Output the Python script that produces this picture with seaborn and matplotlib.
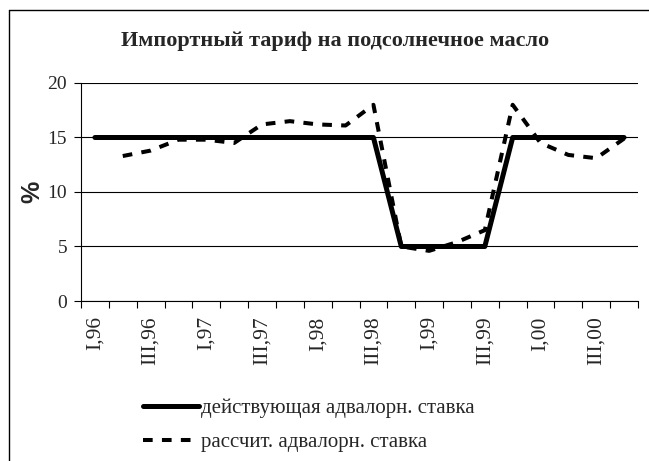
import matplotlib
matplotlib.use("Agg")
import matplotlib.pyplot as plt
import seaborn as sns
import pandas as pd
import numpy as np
from matplotlib.lines import Line2D
from matplotlib.ticker import FixedLocator, NullFormatter, FixedFormatter

quarters = ["I,96", "II,96", "III,96", "IV,96", "I,97", "II,97", "III,97", "IV,97",
            "I,98", "II,98", "III,98", "IV,98", "I,99", "II,99", "III,99", "IV,99",
            "I,00", "II,00", "III,00", "IV,00"]
actual_rate = [15, 15, 15, 15, 15, 15, 15, 15, 15, 15, 15,
               5, 5, 5, 5, 15, 15, 15, 15, 15]
calc_rate = [np.nan, 13.3, 13.8, 14.8, 14.8, 14.5, 16.2, 16.5, 16.2, 16.1, 18.0,
             5.0, 4.6, 5.4, 6.5, 18.0, 14.5, 13.4, 13.1, 14.9]
label_actual = "действующая адвалорн. ставка"
label_calc = "рассчит. адвалорн. ставка"
title = "Импортный тариф на подсолнечное масло"
y_ticks = [0, 5, 10, 15, 20]

sns.set_theme(style="white")
plt.rcParams['font.family'] = ['Liberation Serif', 'DejaVu Serif']

df = pd.DataFrame({"pos": np.arange(len(quarters)),
                   "actual": actual_rate, "calc": calc_rate})

fig = plt.figure(figsize=(6.49, 4.61), dpi=100)
ax = fig.add_axes([81/649, 1-301/461, (638-81)/649, (301-83)/461])

sns.lineplot(data=df, x="pos", y="actual", ax=ax, color="black", linewidth=3.6,
             solid_capstyle="round", label=label_actual)
sns.lineplot(data=df.dropna(), x="pos", y="calc", ax=ax, color="black", linewidth=2.9,
             dashes=False, label=label_calc)
ax.lines[1].set_dashes((2.4, 2.3))
ax.lines[1].set_dash_capstyle("butt")

ax.set_xlim(-0.5, len(quarters) - 0.5)
ax.set_ylim(0, 20)
ax.set_yticks(y_ticks)
ax.set_yticklabels([str(v) for v in y_ticks], fontsize=14)
ax.yaxis.grid(True, color="black", linewidth=0.8)
ax.xaxis.grid(False)

ax.xaxis.set_major_locator(FixedLocator(np.arange(len(quarters) + 1) - 0.5))
ax.xaxis.set_major_formatter(NullFormatter())
lab_pos = np.arange(0, len(quarters), 2)
ax.xaxis.set_minor_locator(FixedLocator(lab_pos))
ax.xaxis.set_minor_formatter(FixedFormatter([quarters[i] for i in lab_pos]))
ax.tick_params(axis="x", which="major", length=5, width=0.8, color="black", direction="out", bottom=True)
ax.tick_params(axis="x", which="minor", length=0, labelsize=15.5, labelrotation=90, pad=11, bottom=True)
ax.tick_params(axis="y", which="major", length=5, width=0.8, color="black", direction="out", left=True, pad=5)
for lab in ax.xaxis.get_minorticklabels():
    lab.set_verticalalignment("top")

for s in ["top", "right"]:
    ax.spines[s].set_visible(False)
for s in ["left", "bottom"]:
    ax.spines[s].set_color("black")
    ax.spines[s].set_linewidth(0.8)

ax.set_xlabel("")
ax.set_ylabel("%", fontsize=18, fontweight="bold", family=["Liberation Sans", "DejaVu Sans"], labelpad=2)

fig.text(335/649, 1-41/461, title, ha="center", va="center", fontsize=16,
         fontweight="bold")

handles, labels = ax.get_legend_handles_labels()
ax.get_legend().remove()
leg = fig.legend(handles, labels, loc="upper left", bbox_to_anchor=(135/649, 1-390/461),
                 frameon=False, fontsize=15, handlelength=2.65, handletextpad=0.1,
                 labelspacing=0.7, borderaxespad=0)

fig.add_artist(Line2D([9/649, 9/649], [0, 1-10/461], color="black", linewidth=1.0))
fig.add_artist(Line2D([9/649, 1], [1-10/461, 1-10/461], color="black", linewidth=1.0))

fig.savefig("out.png", dpi=100)
